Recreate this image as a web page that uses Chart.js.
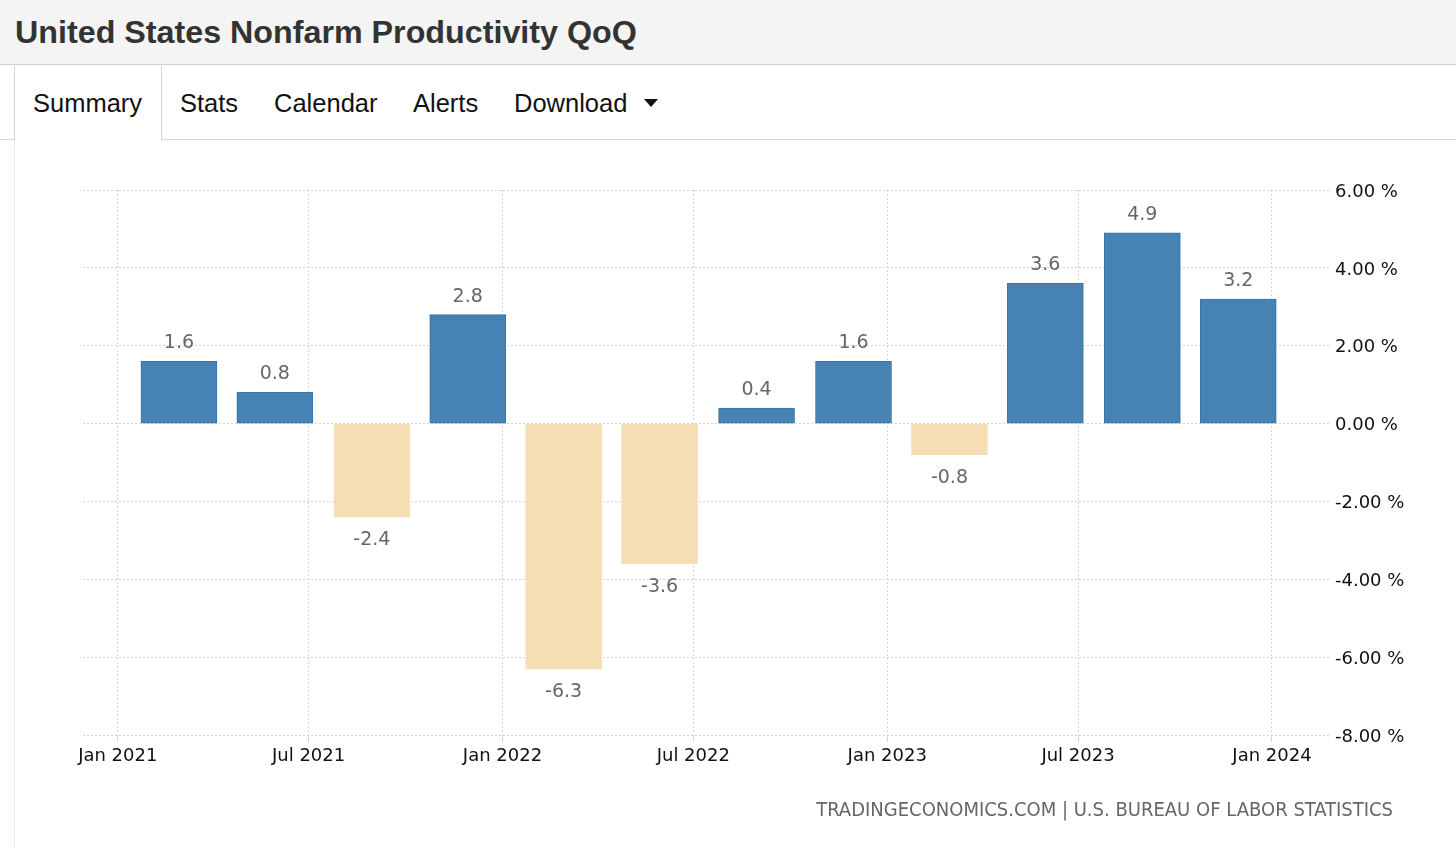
<!DOCTYPE html>
<html>
<head>
<meta charset="utf-8">
<script src="https://cdn.jsdelivr.net/npm/chart.js@4/dist/chart.umd.min.js"></script>
<style>
  html, body { margin: 0; padding: 0; width: 1456px; height: 848px; overflow: hidden; background: #fff; }
  #head { position: absolute; left: 0; top: 0; width: 1456px; height: 64px; background: #f4f4f4; border-bottom: 1px solid #cfcfcf; }
  #title { position: absolute; left: 15px; top: 14px; font: bold 32.25px "Liberation Sans", Arial, sans-serif; color: #333; white-space: nowrap; }
  #tabline { position: absolute; left: 0; top: 139px; width: 1456px; height: 1px; background: #d6d6d6; }
  #tabactive { position: absolute; left: 14px; top: 65px; width: 146px; height: 76px; background: #fff; border-left: 1px solid #d6d6d6; border-right: 1px solid #d6d6d6; }
  #leftline { position: absolute; left: 14px; top: 140px; width: 1px; height: 708px; background: #ececec; }
  .tab { position: absolute; top: 89px; font: 25.5px "Liberation Sans", Arial, sans-serif; color: #111; white-space: nowrap; }
  #caret { position: absolute; left: 644px; top: 99px; width: 0; height: 0; border-left: 7px solid transparent; border-right: 7px solid transparent; border-top: 8px solid #111; }
  #chart { position: absolute; left: 0; top: 140px; }
  #foot { position: absolute; right: 63px; top: 797px; font: 20px "DejaVu Sans Condensed", "DejaVu Sans", sans-serif; color: #666; white-space: nowrap; }
</style>
</head>
<body>
<div id="head"><div id="title">United States Nonfarm Productivity QoQ</div></div>
<div id="tabline"></div>
<div id="tabactive"></div>
<div id="leftline"></div>
<div class="tab" style="left:33px">Summary</div>
<div class="tab" style="left:180px">Stats</div>
<div class="tab" style="left:274px">Calendar</div>
<div class="tab" style="left:413px">Alerts</div>
<div class="tab" style="left:514px">Download</div>
<div id="caret"></div>
<canvas id="chart" width="1456" height="708"></canvas>
<div id="foot">TRADINGECONOMICS.COM | U.S. BUREAU OF LABOR STATISTICS</div>
<script>
// ---- data ----
const quarters = ["Q1 2021","Q2 2021","Q3 2021","Q4 2021","Q1 2022","Q2 2022","Q3 2022","Q4 2022","Q1 2023","Q2 2023","Q3 2023","Q4 2023"];
const barDates = ["2021-02-28","2021-05-30","2021-08-30","2021-11-29","2022-02-28","2022-05-30","2022-08-30","2022-11-30","2023-03-01","2023-05-31","2023-08-31","2023-11-30"];
const productivity = [1.6, 0.8, -2.4, 2.8, -6.3, -3.6, 0.4, 1.6, -0.8, 3.6, 4.9, 3.2];
const tickDates = ["2021-01-01","2021-07-01","2022-01-01","2022-07-01","2023-01-01","2023-07-01","2024-01-01"];
const tickLabels = ["Jan 2021","Jul 2021","Jan 2022","Jul 2022","Jan 2023","Jul 2023","Jan 2024"];
const xRange = ["2020-11-29","2024-02-26"];
const yTicks = [-8, -6, -4, -2, 0, 2, 4, 6];

const DAY = 86400000;
const origin = Date.UTC(2021, 0, 1);
const toDays = s => (Date.parse(s + "T00:00:00Z") - origin) / DAY;

const POS = "#4682b4", POS_BORDER = "#3a73a6", NEG = "#f5deb3";
const AXIS_FONT = { family: "'DejaVu Sans', sans-serif", size: 18 };

const labelPlugin = {
  id: "valueLabels",
  afterDatasetsDraw(chart) {
    const ctx = chart.ctx;
    const meta = chart.getDatasetMeta(0);
    ctx.save();
    ctx.font = "19px 'DejaVu Sans', sans-serif";
    ctx.fillStyle = "#666";
    ctx.textAlign = "center";
    ctx.textBaseline = "alphabetic";
    meta.data.forEach((el, i) => {
      const v = productivity[i];
      const txt = v.toFixed(1);
      if (v >= 0) ctx.fillText(txt, el.x, el.y - 13);
      else ctx.fillText(txt, el.x, el.y + 28);
    });
    ctx.restore();
  }
};

new Chart(document.getElementById("chart"), {
  type: "bar",
  data: {
    labels: quarters,
    datasets: [{
      data: productivity.map((v, i) => ({ x: toDays(barDates[i]), y: v })),
      backgroundColor: productivity.map(v => v >= 0 ? POS : NEG),
      borderColor: productivity.map(v => v >= 0 ? POS_BORDER : NEG),
      borderWidth: 1,
      barThickness: 76,
      borderSkipped: false
    }]
  },
  options: {
    responsive: false,
    animation: false,
    layout: { padding: { left: 83, top: 50, right: 0, bottom: 0 } },
    plugins: { legend: { display: false }, tooltip: { enabled: false } },
    scales: {
      x: {
        type: "linear",
        min: toDays(xRange[0]),
        max: toDays(xRange[1]),
        offset: false,
        afterBuildTicks: s => { s.ticks = tickDates.map(d => ({ value: toDays(d) })); },
        afterFit: s => { s.height = 113; },
        ticks: {
          autoSkip: false, maxRotation: 0, padding: 4,
          color: "#111", font: AXIS_FONT,
          callback: (val, idx) => tickLabels[idx]
        },
        grid: { offset: false, color: "#d4d4d4", tickLength: 7, drawOnChartArea: true },
        border: { display: false, dash: [2, 2] }
      },
      y: {
        position: "right",
        min: -8, max: 6,
        afterBuildTicks: s => { s.ticks = yTicks.map(v => ({ value: v })); },
        afterFit: s => { s.width = 125; },
        ticks: {
          padding: 4, crossAlign: "near", labelOffset: 2,
          color: "#111", font: AXIS_FONT,
          callback: v => v.toFixed(2) + " %"
        },
        grid: { color: "#d4d4d4", drawTicks: false },
        border: { display: false, dash: [2, 2] }
      }
    }
  },
  plugins: [labelPlugin]
});
</script>
</body>
</html>
